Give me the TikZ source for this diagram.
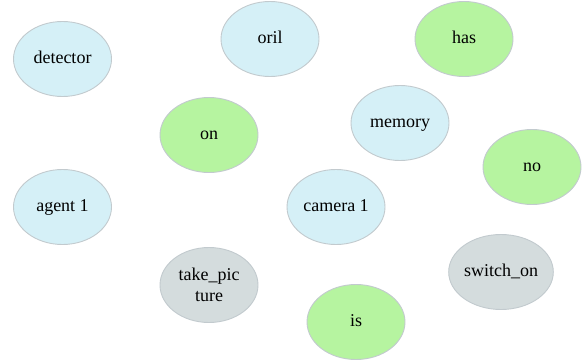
\documentclass[tikz,border=0pt]{standalone}
\usepackage{fontspec}
\setmainfont{Liberation Serif}
\usetikzlibrary{shapes.geometric}
\definecolor{bluefill}{HTML}{D5F0F7}
\definecolor{greenfill}{HTML}{B6F4A0}
\definecolor{grayfill}{HTML}{D4DCDD}
\definecolor{rim}{HTML}{C2CACE}
\tikzset{
  bubble/.style={ellipse, draw=rim, line width=0.9pt, minimum width=98pt,
    minimum height=75pt, inner sep=0pt, align=center,
    font=\fontsize{18pt}{21pt}\selectfont, text=black},
  oneline/.style={text height=13pt, text depth=4pt},
  entity/.style={bubble, oneline, fill=bluefill},
  relation/.style={bubble, oneline, fill=greenfill},
  action/.style={bubble, fill=grayfill},
}
\begin{document}
\begin{tikzpicture}[x=1pt,y=-1pt]
\useasboundingbox (0,0) rectangle (588,361);
\node[entity]   (detector) at (62.5,59)  {detector};
\node[entity]   (oril)     at (270,39)   {oril};
\node[relation] (has)      at (464,39)   {has};
\node[relation] (on)       at (209,135)  {on};
\node[entity]   (memory)   at (400,123)  {memory};
\node[relation] (no)       at (532,167)  {no};
\node[entity]   (agent)    at (62.5,207) {agent 1};
\node[entity]   (camera)   at (336,207)  {camera 1};
\node[action, oneline] (switch) at (501,272) {switch\_on};
\node[action]   (take)     at (209,285)  {take\_pic\\ture};
\node[relation] (is)       at (356,322)  {is};
\end{tikzpicture}
\end{document}
